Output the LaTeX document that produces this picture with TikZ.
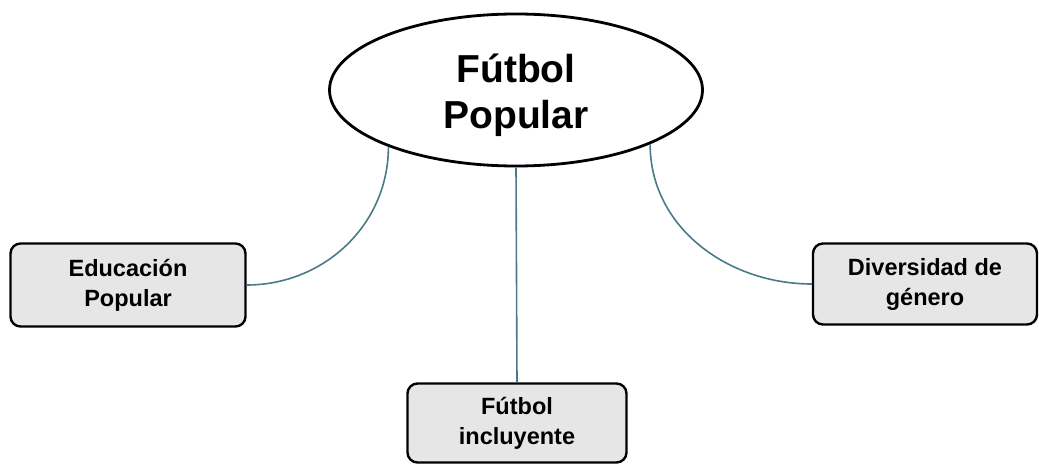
\documentclass[tikz,border=0pt]{standalone}
\usepackage{fontspec}
\setmainfont{Liberation Sans}
\usetikzlibrary{shapes.geometric}
\definecolor{linkcol}{RGB}{74,122,136}
\definecolor{boxfill}{RGB}{230,230,230}
\tikzset{
  topic/.style={ellipse, draw=black, line width=2.8pt, fill=white, minimum width=373pt, minimum height=152pt, inner sep=0pt, align=center, font=\bfseries\fontsize{39}{46}\selectfont},
  subbox/.style={rectangle, rounded corners=10pt, draw=black, line width=2.4pt, fill=boxfill, inner sep=0pt, align=center, font=\bfseries\fontsize{23.5}{30}\selectfont},
  link/.style={draw=linkcol, line width=1.6pt}
}
\begin{document}
\begin{tikzpicture}[x=1pt,y=-1pt]
\useasboundingbox (0,0) rectangle (1039,465);
\node[topic] (main) at (516,90) {};
\node[align=center, font=\bfseries\fontsize{39}{46}\selectfont, inner sep=0pt] (maintext) at (516,95) {Fútbol\\Popular};
\node[subbox, minimum width=235pt, minimum height=83pt] (edu) at (128,285) {Educación\\Popular};
\node[subbox, minimum width=224pt, minimum height=81pt] (div) at (925,284) {Diversidad de\\género};
\node[subbox, minimum width=219pt, minimum height=79pt] (inc) at (517,423) {Fútbol\\incluyente};
\draw[link] (main.204) to[out=-90,in=0] (edu.east);
\draw[link] (main.338) to[out=-90,in=180] (div.west);
\draw[link] (main.south) -- (inc.north);
\end{tikzpicture}
\end{document}
